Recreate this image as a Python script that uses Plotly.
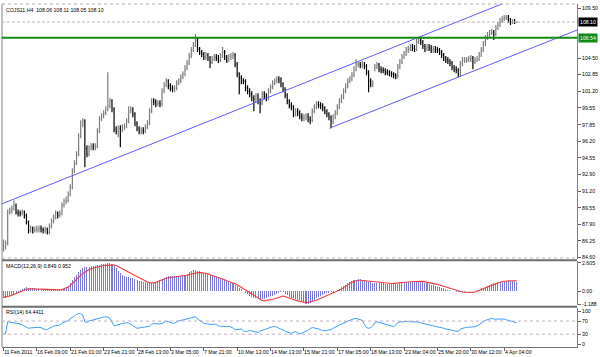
import plotly.graph_objects as go

# ---------------- data ----------------
symbol_title = "COJS11,H4  108.06 108.11 108.05 108.10"
macd_title = "MACD(12,26,9) 0.849 0.952"
rsi_title = "RSI(14) 64.4411"

date_labels = ["11 Feb 2011", "16 Feb 09:00", "21 Feb 01:00", "23 Feb 21:00", "28 Feb 13:00",
               "3 Mar 05:00", "7 Mar 21:00", "10 Mar 13:00", "14 Mar 13:00", "15 Mar 21:00",
               "17 Mar 05:00", "18 Mar 13:00", "23 Mar 04:00", "25 Mar 20:00", "30 Mar 12:00",
               "4 Apr 04:00"]
bars_per_label = 16

price_ticks = [84.60, 86.25, 87.90, 89.55, 91.20, 92.90, 94.55, 96.20, 97.85, 99.55,
               101.20, 102.85, 104.50, 109.50]
macd_ticks = [2.605, 0.0, -1.188]
macd_ticktext = ["2.605", "0.00", "-1.188"]
rsi_ticks = [100, 70, 30, 0]
rsi_levels = [70, 30]

bid_price = 108.10
level_price = 106.54

open_ = [
 85.4, 85.7, 86.0, 89.1, 89.3, 89.5, 89.8, 89.1, 89.0, 89.0,
 89.1, 88.8, 88.1, 87.3, 87.5, 87.3, 87.4, 87.4, 87.5, 87.4,
 87.3, 87.4, 87.1, 87.7, 88.2, 88.6, 89.0, 88.8, 89.0, 89.8,
 90.2, 90.3, 90.9, 91.6, 93.2, 94.0, 94.9, 96.7, 97.9, 98.2,
 95.5, 94.9, 95.5, 95.7, 95.6, 95.7, 97.2, 98.4, 98.7, 99.0,
 99.4, 99.7, 100.2, 99.4, 97.4, 97.2, 97.5, 97.4, 97.6, 97.7,
 98.2, 99.2, 99.4, 98.9, 98.0, 97.5, 97.2, 97.3, 97.2, 97.6,
 98.0, 99.2, 100.2, 100.1, 99.9, 100.0, 99.9, 101.2, 101.8, 102.2,
 101.7, 101.5, 101.4, 101.5, 102.0, 102.2, 102.6, 102.9, 103.5, 104.0,
 104.7, 105.3, 105.8, 106.3, 105.4, 105.1, 104.9, 104.6, 104.8, 104.5,
 104.1, 104.4, 104.6, 104.5, 104.3, 104.7, 105.1, 104.6, 104.3, 104.6,
 104.7, 104.8, 103.9, 102.9, 102.5, 102.2, 102.2, 101.5, 101.2, 100.9,
 100.5, 100.4, 100.7, 100.2, 100.0, 100.9, 100.7, 100.5, 101.2, 101.6,
 102.0, 102.2, 102.4, 102.3, 101.9, 101.4, 100.8, 100.2, 99.8, 99.6,
 98.9, 99.2, 99.0, 98.7, 98.5, 98.6, 98.7, 98.4, 98.3, 99.2,
 99.6, 99.9, 99.8, 99.7, 99.5, 99.2, 98.9, 98.6, 98.2, 98.6,
 99.0, 99.6, 100.2, 100.6, 101.2, 101.7, 102.2, 102.4, 102.8, 103.4,
 103.9, 103.9, 103.8, 103.9, 103.7, 103.1, 102.2, 101.9, 103.5, 103.6,
 103.8, 103.4, 103.3, 103.3, 103.1, 103.1, 103.0, 102.9, 102.8, 102.7,
 103.6, 104.1, 104.6, 104.9, 105.3, 105.4, 105.6, 105.5, 105.4, 106.1,
 106.3, 106.1, 105.7, 105.4, 105.6, 105.5, 105.3, 105.4, 105.3, 105.3,
 105.1, 104.8, 104.5, 104.3, 104.2, 104.0, 103.6, 103.4, 103.3, 102.9,
 103.9, 104.3, 104.3, 104.3, 104.4, 104.5, 104.1, 104.3, 104.4, 104.8,
 105.3, 105.9, 106.5, 106.8, 107.0, 107.1, 106.9, 107.5, 107.8, 108.2,
 108.4, 108.5, 108.6, 108.3, 108.1, 108.2, 108.06]

high = [
 86.4, 86.3, 89.4, 89.6, 89.8, 90.3, 90.0, 89.4, 89.3, 89.4,
 89.3, 89.0, 88.3, 87.8, 87.7, 87.7, 87.8, 87.8, 87.8, 87.6,
 87.7, 87.6, 88.0, 88.5, 88.9, 89.3, 89.2, 89.3, 90.1, 90.5,
 90.7, 91.2, 91.9, 93.5, 94.3, 95.2, 97.0, 98.3, 98.5, 98.4,
 95.8, 95.8, 96.0, 96.0, 96.0, 97.5, 98.7, 99.0, 99.3, 99.7,
 103.1, 100.5, 100.4, 99.6, 97.7, 97.8, 97.8, 97.9, 98.0, 98.5,
 99.7, 99.7, 99.6, 99.1, 98.2, 97.7, 97.6, 97.6, 97.9, 98.3,
 99.5, 100.5, 100.5, 100.4, 100.3, 100.3, 101.5, 102.1, 102.5, 102.4,
 102.0, 101.8, 101.8, 102.3, 102.5, 102.9, 103.2, 103.8, 104.3, 105.0,
 105.6, 106.1, 106.9, 106.5, 105.6, 105.3, 105.1, 105.1, 105.0, 104.7,
 104.7, 104.9, 104.9, 104.8, 105.0, 105.6, 105.3, 104.8, 104.9, 105.0,
 105.1, 105.0, 104.1, 103.1, 102.8, 102.5, 102.4, 101.8, 101.5, 101.2,
 100.8, 101.0, 101.0, 100.5, 101.2, 101.2, 101.0, 101.5, 101.9, 102.3,
 102.5, 102.7, 102.7, 102.6, 102.1, 101.6, 101.0, 100.4, 100.1, 99.8,
 99.5, 99.5, 99.3, 99.0, 98.9, 99.0, 99.0, 98.7, 99.5, 99.9,
 100.2, 100.2, 100.1, 100.0, 99.7, 99.4, 99.1, 98.8, 98.9, 99.3,
 99.9, 100.5, 100.9, 101.5, 102.0, 102.5, 102.7, 103.1, 103.7, 104.4,
 104.2, 104.1, 104.2, 104.1, 103.9, 103.3, 102.5, 102.3, 103.9, 104.1,
 104.0, 103.7, 103.6, 103.5, 103.4, 103.3, 103.2, 103.1, 103.0, 103.9,
 104.4, 104.9, 105.2, 105.6, 105.7, 105.9, 105.9, 105.8, 106.4, 106.6,
 106.5, 106.3, 105.9, 105.9, 105.9, 105.8, 105.7, 105.7, 105.6, 105.5,
 105.3, 105.0, 104.7, 104.6, 104.4, 104.2, 103.8, 103.7, 103.5, 104.2,
 104.6, 104.6, 104.6, 104.7, 104.8, 104.7, 104.6, 104.7, 105.1, 105.6,
 106.2, 106.8, 107.1, 107.3, 107.4, 107.3, 107.8, 108.1, 108.5, 108.7,
 108.8, 108.8, 108.8, 108.5, 108.4, 108.4, 108.11]

low = [
 85.2, 85.4, 85.8, 88.9, 89.0, 89.3, 88.9, 88.7, 88.7, 88.8,
 88.5, 87.9, 87.0, 87.1, 87.0, 87.1, 87.1, 87.1, 87.1, 87.0,
 87.0, 86.9, 86.9, 87.5, 88.0, 88.4, 88.5, 88.6, 88.8, 89.6,
 89.9, 90.1, 90.7, 91.4, 93.0, 93.8, 94.7, 96.5, 97.6, 93.6,
 94.6, 94.7, 95.3, 95.3, 95.3, 95.5, 97.0, 98.2, 98.5, 98.8,
 99.2, 99.5, 99.1, 97.1, 96.9, 96.6, 95.6, 97.1, 97.3, 97.5,
 98.0, 99.0, 98.6, 97.7, 97.2, 96.9, 96.9, 96.9, 97.0, 97.4,
 97.8, 99.0, 99.8, 99.6, 99.7, 99.6, 99.7, 101.0, 101.6, 101.4,
 101.2, 101.1, 101.1, 101.3, 101.8, 102.0, 102.4, 102.7, 103.3, 103.8,
 104.5, 105.1, 105.6, 105.1, 104.8, 104.6, 104.3, 104.3, 104.2, 103.5,
 103.9, 104.2, 104.2, 104.0, 104.1, 104.5, 104.3, 104.0, 104.1, 104.3,
 104.4, 103.6, 102.6, 100.9, 101.9, 101.9, 101.2, 100.9, 100.6, 100.2,
 99.2, 100.1, 99.9, 99.0, 99.8, 100.4, 100.2, 100.3, 101.0, 101.4,
 101.8, 102.0, 102.0, 101.6, 101.1, 100.5, 99.9, 99.5, 99.3, 98.6,
 98.7, 98.7, 98.4, 98.2, 98.2, 98.3, 98.1, 97.9, 98.1, 99.0,
 99.4, 99.5, 99.4, 99.2, 98.9, 98.6, 98.3, 97.5, 97.9, 98.4,
 98.8, 99.4, 100.0, 100.4, 101.0, 101.5, 102.0, 102.2, 102.6, 103.2,
 103.6, 103.5, 103.5, 103.4, 102.8, 101.1, 101.6, 101.6, 103.2, 103.4,
 103.1, 103.0, 103.0, 102.8, 102.8, 102.7, 102.6, 102.5, 102.4, 102.5,
 103.4, 103.9, 104.4, 104.7, 105.0, 105.2, 105.2, 105.1, 105.2, 105.9,
 105.8, 105.4, 105.1, 105.2, 105.2, 105.0, 105.0, 105.0, 105.0, 104.8,
 104.5, 104.2, 104.0, 103.9, 103.7, 103.3, 103.1, 103.0, 102.6, 102.7,
 103.7, 104.0, 104.0, 104.1, 104.1, 103.4, 103.9, 104.1, 104.2, 104.6,
 105.1, 105.7, 106.3, 106.6, 106.8, 106.3, 106.7, 107.3, 107.6, 108.0,
 108.2, 108.3, 108.0, 107.8, 107.9, 107.9, 108.05]

close = [
 85.7, 86.0, 89.1, 89.3, 89.5, 89.8, 89.1, 89.0, 89.0, 89.1,
 88.8, 88.1, 87.3, 87.5, 87.3, 87.4, 87.4, 87.5, 87.4, 87.3,
 87.4, 87.1, 87.7, 88.2, 88.6, 89.0, 88.8, 89.0, 89.8, 90.2,
 90.3, 90.9, 91.6, 93.2, 94.0, 94.9, 96.7, 97.9, 98.2, 95.5,
 94.9, 95.5, 95.7, 95.6, 95.7, 97.2, 98.4, 98.7, 99.0, 99.4,
 99.7, 100.2, 99.4, 97.4, 97.2, 97.5, 97.4, 97.6, 97.7, 98.2,
 99.2, 99.4, 98.9, 98.0, 97.5, 97.2, 97.3, 97.2, 97.6, 98.0,
 99.2, 100.2, 100.1, 99.9, 100.0, 99.9, 101.2, 101.8, 102.2, 101.7,
 101.5, 101.4, 101.5, 102.0, 102.2, 102.6, 102.9, 103.5, 104.0, 104.7,
 105.3, 105.8, 106.3, 105.4, 105.1, 104.9, 104.6, 104.8, 104.5, 104.1,
 104.4, 104.6, 104.5, 104.3, 104.7, 105.1, 104.6, 104.3, 104.6, 104.7,
 104.8, 103.9, 102.9, 102.5, 102.2, 102.2, 101.5, 101.2, 100.9, 100.5,
 100.4, 100.7, 100.2, 100.0, 100.9, 100.7, 100.5, 101.2, 101.6, 102.0,
 102.2, 102.4, 102.3, 101.9, 101.4, 100.8, 100.2, 99.8, 99.6, 98.9,
 99.2, 99.0, 98.7, 98.5, 98.6, 98.7, 98.4, 98.3, 99.2, 99.6,
 99.9, 99.8, 99.7, 99.5, 99.2, 98.9, 98.6, 98.2, 98.6, 99.0,
 99.6, 100.2, 100.6, 101.2, 101.7, 102.2, 102.4, 102.8, 103.4, 103.9,
 103.9, 103.8, 103.9, 103.7, 103.1, 102.2, 101.9, 102.0, 103.6, 103.8,
 103.4, 103.3, 103.3, 103.1, 103.1, 103.0, 102.9, 102.8, 102.7, 103.6,
 104.1, 104.6, 104.9, 105.3, 105.4, 105.6, 105.5, 105.4, 106.1, 106.3,
 106.1, 105.7, 105.4, 105.6, 105.5, 105.3, 105.4, 105.3, 105.3, 105.1,
 104.8, 104.5, 104.3, 104.2, 104.0, 103.6, 103.4, 103.3, 102.9, 103.9,
 104.3, 104.3, 104.3, 104.4, 104.5, 104.1, 104.3, 104.4, 104.8, 105.3,
 105.9, 106.5, 106.8, 107.0, 107.1, 106.9, 107.5, 107.8, 108.2, 108.4,
 108.5, 108.6, 108.3, 108.1, 108.2, 108.1, 108.10]

macd_main = [
 -0.62, -0.60, -0.55, -0.48, -0.40, -0.30, -0.18, -0.05, 0.10, 0.22,
 0.32, 0.35, 0.33, 0.30, 0.27, 0.24, 0.20, 0.17, 0.15, 0.13,
 0.12, 0.10, 0.09, 0.09, 0.10, 0.10, 0.11, 0.12, 0.15, 0.20,
 0.28, 0.45, 0.70, 1.00, 1.25, 1.50, 1.75, 1.96, 2.10, 2.20,
 2.22, 2.25, 2.28, 2.32, 2.35, 2.38, 2.42, 2.45, 2.48, 2.52,
 2.55, 2.605, 2.50, 2.35, 2.10, 1.85, 1.66, 1.50, 1.40, 1.32,
 1.28, 1.22, 1.18, 1.10, 1.02, 0.95, 0.90, 0.86, 0.82, 0.78,
 0.76, 0.75, 0.78, 0.85, 0.95, 1.02, 1.10, 1.20, 1.30, 1.35,
 1.36, 1.37, 1.38, 1.40, 1.40, 1.42, 1.45, 1.50, 1.60, 1.75,
 1.85, 1.90, 1.92, 1.88, 1.84, 1.78, 1.70, 1.62, 1.55, 1.48,
 1.40, 1.35, 1.28, 1.22, 1.15, 1.08, 1.00, 0.92, 0.85, 0.78,
 0.72, 0.60, 0.45, 0.30, 0.15, 0.00, -0.15, -0.30, -0.45, -0.55,
 -0.60, -0.65, -0.70, -0.73, -0.75, -0.72, -0.65, -0.55, -0.48, -0.42,
 -0.35, -0.25, -0.15, -0.10, -0.12, -0.25, -0.40, -0.55, -0.62, -0.68,
 -0.72, -0.78, -0.85, -0.95, -1.05, -1.15, -1.188, -1.10, -0.98, -0.80,
 -0.62, -0.50, -0.42, -0.35, -0.28, -0.22, -0.15, -0.10, -0.05, 0.00,
 0.08, 0.20, 0.35, 0.48, 0.60, 0.72, 0.82, 0.92, 1.00, 1.05,
 1.10, 1.10, 1.05, 1.00, 0.95, 0.88, 0.82, 0.78, 0.75, 0.74,
 0.73, 0.72, 0.70, 0.68, 0.66, 0.65, 0.65, 0.65, 0.64, 0.66,
 0.70, 0.74, 0.78, 0.80, 0.82, 0.86, 0.88, 0.90, 0.90, 0.88,
 0.85, 0.80, 0.75, 0.70, 0.65, 0.60, 0.55, 0.48, 0.42, 0.36,
 0.30, 0.25, 0.20, 0.14, 0.08, 0.03, -0.02, -0.05, -0.08, -0.06,
 -0.05, -0.04, -0.03, -0.02, 0.00, 0.00, 0.02, 0.05, 0.10, 0.25,
 0.32, 0.40, 0.48, 0.56, 0.62, 0.70, 0.78, 0.84, 0.88, 0.92,
 0.95, 0.97, 0.98, 0.96, 0.93, 0.90, 0.849]

macd_signal = [
 -0.58, -0.55, -0.50, -0.45, -0.38, -0.30, -0.22, -0.13, -0.04, 0.05,
 0.12, 0.17, 0.20, 0.21, 0.21, 0.20, 0.19, 0.18, 0.17, 0.16,
 0.15, 0.13, 0.11, 0.10, 0.10, 0.10, 0.10, 0.11, 0.14, 0.20,
 0.27, 0.38, 0.52, 0.68, 0.90, 1.10, 1.30, 1.45, 1.60, 1.75,
 1.88, 1.98, 2.06, 2.12, 2.18, 2.23, 2.28, 2.32, 2.35, 2.38,
 2.40, 2.41, 2.41, 2.40, 2.35, 2.25, 2.12, 2.00, 1.88, 1.80,
 1.72, 1.62, 1.52, 1.42, 1.33, 1.22, 1.12, 1.02, 0.93, 0.84,
 0.78, 0.75, 0.76, 0.82, 0.90, 0.98, 1.05, 1.12, 1.18, 1.22,
 1.24, 1.26, 1.28, 1.30, 1.32, 1.34, 1.36, 1.40, 1.45, 1.52,
 1.58, 1.63, 1.66, 1.69, 1.70, 1.70, 1.68, 1.64, 1.58, 1.52,
 1.46, 1.40, 1.35, 1.28, 1.20, 1.12, 1.04, 0.96, 0.90, 0.84,
 0.78, 0.68, 0.58, 0.46, 0.34, 0.20, 0.08, -0.05, -0.18, -0.28,
 -0.38, -0.50, -0.62, -0.75, -0.86, -0.90, -0.88, -0.84, -0.80, -0.75,
 -0.70, -0.62, -0.55, -0.48, -0.45, -0.50, -0.58, -0.66, -0.74, -0.80,
 -0.84, -0.90, -0.95, -0.99, -1.02, -1.04, -1.04, -1.00, -0.95, -0.90,
 -0.84, -0.76, -0.68, -0.58, -0.48, -0.40, -0.32, -0.25, -0.18, -0.12,
 -0.05, 0.05, 0.18, 0.32, 0.45, 0.58, 0.70, 0.80, 0.88, 0.95,
 1.00, 1.00, 0.98, 0.95, 0.92, 0.88, 0.86, 0.85, 0.83, 0.80,
 0.78, 0.75, 0.73, 0.71, 0.70, 0.70, 0.70, 0.71, 0.72, 0.73,
 0.75, 0.76, 0.78, 0.80, 0.83, 0.86, 0.88, 0.90, 0.91, 0.91,
 0.90, 0.89, 0.86, 0.84, 0.81, 0.78, 0.74, 0.68, 0.62, 0.56,
 0.50, 0.44, 0.38, 0.32, 0.25, 0.18, 0.10, 0.04, 0.00, -0.05,
 -0.08, -0.11, -0.13, -0.15, -0.14, -0.12, -0.08, -0.02, 0.06, 0.15,
 0.22, 0.30, 0.38, 0.46, 0.54, 0.62, 0.70, 0.77, 0.83, 0.88,
 0.91, 0.93, 0.95, 0.95, 0.95, 0.95, 0.952]

rsi = [
 30, 32, 68, 67, 66, 66, 63, 62, 61, 58,
 54, 50, 48, 49, 50, 50, 50, 51, 50, 46,
 45, 44, 48, 52, 54, 56, 57, 58, 63, 66,
 68, 72, 77, 83, 86, 90, 93, 92, 88, 68,
 66, 70, 72, 74, 75, 77, 78, 80, 82, 83,
 82, 78, 66, 55, 57, 60, 61, 62, 64, 65,
 64, 60, 56, 50, 48, 49, 51, 51, 52, 53,
 54, 60, 63, 62, 61, 61, 63, 67, 70, 68,
 66, 63, 64, 68, 70, 72, 73, 75, 77, 78,
 80, 82, 83, 76, 73, 68, 63, 62, 60, 58,
 59, 61, 60, 56, 53, 54, 53, 53, 54, 52,
 49, 43, 44, 47, 46, 40, 38, 39, 41, 40,
 38, 36, 35, 40, 43, 44, 46, 49, 51, 53,
 53, 52, 48, 45, 43, 39, 36, 34, 33, 35,
 38, 34, 31, 33, 36, 38, 42, 47, 50, 49,
 48, 47, 44, 41, 40, 41, 43, 44, 48, 52,
 55, 58, 61, 64, 68, 71, 73, 75, 77, 78,
 76, 74, 72, 60, 50, 48, 50, 55, 64, 68,
 66, 65, 64, 62, 60, 57, 54, 53, 58, 65,
 67, 68, 68, 68, 69, 68, 68, 67, 69, 67,
 65, 63, 61, 60, 58, 56, 55, 54, 53, 51,
 49, 48, 46, 45, 44, 42, 40, 39, 38, 46,
 48, 50, 51, 51, 51, 51, 53, 55, 60, 63,
 68, 72, 74, 77, 78, 76, 76, 77, 78, 78,
 76, 74, 72, 70, 68, 66, 64.4411]

# channel lines drawn on the chart: (bar position, price) end points
channel_upper_x = [-0.7, 274.9]
channel_upper_y = [89.96, 112.9]
channel_lower_x = [156.2, 274.9]
channel_lower_y = [97.5, 107.3]

# ---------------- figure ----------------
bars = list(range(len(close)))
FONT = "Liberation Sans, Arial, sans-serif"
FS = 5.2

W, H = 600, 357
ML, MR, MT, MB = 2, 22, 2, 10
PH = H - MT - MB  # plot height in px


def py(pix):
    """pixel row -> paper y"""
    return (H - MB - pix) / PH


x_range = [-0.72, 274.9]

fig = go.Figure()

fig.add_trace(go.Ohlc(
    x=bars, open=open_, high=high, low=low, close=close,
    increasing=dict(line=dict(color="#7c7c7c", width=1.2)),
    decreasing=dict(line=dict(color="#000000", width=1.2)),
    tickwidth=0.35, xaxis="x", yaxis="y", hoverinfo="skip", showlegend=False))

fig.add_trace(go.Scatter(x=channel_upper_x, y=channel_upper_y, mode="lines",
                         line=dict(color="#5a5aff", width=1), xaxis="x", yaxis="y",
                         hoverinfo="skip", showlegend=False))
fig.add_trace(go.Scatter(x=channel_lower_x, y=channel_lower_y, mode="lines",
                         line=dict(color="#5a5aff", width=1), xaxis="x", yaxis="y",
                         hoverinfo="skip", showlegend=False))

fig.add_trace(go.Bar(x=bars, y=macd_main, width=0.5,
                     marker=dict(color="#4f4fc8", opacity=0.75, line=dict(width=0)),
                     xaxis="x2", yaxis="y2", hoverinfo="skip", showlegend=False))
fig.add_trace(go.Scatter(x=bars, y=macd_signal, mode="lines",
                         line=dict(color="#f03a3a", width=1.1),
                         xaxis="x2", yaxis="y2", hoverinfo="skip", showlegend=False))

fig.add_trace(go.Scatter(x=bars, y=rsi, mode="lines",
                         line=dict(color="#3c9cff", width=1),
                         xaxis="x3", yaxis="y3", hoverinfo="skip", showlegend=False))

axis_common = dict(showgrid=False, zeroline=False, fixedrange=True)
yaxis_common = dict(axis_common, side="right", ticks="outside", ticklen=3,
                    tickcolor="#606060", tickfont=dict(family=FONT, size=FS, color="#000"),
                    showline=True, linecolor="#808080", linewidth=1)

label_pos = [k * bars_per_label for k in range(len(date_labels))]

fig.update_layout(
    width=W, height=H, margin=dict(l=ML, r=MR, t=MT, b=MB),
    paper_bgcolor="white", plot_bgcolor="white", showlegend=False,
    bargap=0,
    xaxis=dict(axis_common, domain=[0, 1], anchor="y", range=x_range,
               showticklabels=False, rangeslider=dict(visible=False)),
    xaxis2=dict(axis_common, domain=[0, 1], anchor="y2", range=x_range,
                showticklabels=False),
    xaxis3=dict(axis_common, domain=[0, 1], anchor="y3", range=x_range,
                showticklabels=False, tickvals=label_pos, ticks="outside",
                ticklen=3, tickcolor="#606060", showline=True,
                linecolor="#707070", linewidth=1),
    yaxis=dict(yaxis_common, domain=[py(258), 1], anchor="x",
               range=[84.50, 109.90], tickvals=price_ticks,
               ticktext=[f"{v:.2f}" for v in price_ticks]),
    yaxis2=dict(yaxis_common, domain=[py(305), py(261)], anchor="x2",
                range=[-1.30, 2.72], tickvals=macd_ticks, ticktext=macd_ticktext),
    yaxis3=dict(yaxis_common, domain=[0, py(308)], anchor="x3",
                range=[-9, 109], tickvals=rsi_ticks,
                ticktext=[str(v) for v in rsi_ticks]),
)

shapes = []
# frame / separators
shapes.append(dict(type="line", xref="paper", yref="paper", x0=0, x1=0, y0=0, y1=1,
                   line=dict(color="#808080", width=1)))
shapes.append(dict(type="line", xref="paper", yref="paper", x0=0, x1=1, y0=1, y1=1,
                   line=dict(color="#a8a8a8", width=1, dash="dot")))
shapes.append(dict(type="line", xref="paper", yref="paper", x0=0, x1=1,
                   y0=py(257.5), y1=py(257.5), line=dict(color="#b4b4b4", width=1, dash="dot")))
shapes.append(dict(type="line", xref="paper", yref="paper", x0=0, x1=1,
                   y0=py(259.8), y1=py(259.8), line=dict(color="#6e6e6e", width=2)))
shapes.append(dict(type="line", xref="paper", yref="paper", x0=0, x1=1,
                   y0=py(306.6), y1=py(306.6), line=dict(color="#6e6e6e", width=2)))
# bid line and horizontal level
shapes.append(dict(type="line", xref="paper", yref="y", x0=0, x1=1,
                   y0=bid_price, y1=bid_price,
                   line=dict(color="#c4b4c4", width=1, dash="3px,2px")))
shapes.append(dict(type="line", xref="paper", yref="y", x0=0, x1=1,
                   y0=level_price, y1=level_price,
                   line=dict(color="#138a13", width=2)))
# RSI levels
for lv in rsi_levels:
    shapes.append(dict(type="line", xref="paper", yref="y3", x0=0, x1=1, y0=lv, y1=lv,
                       line=dict(color="#c0b0c0", width=1, dash="dot")))
fig.update_layout(shapes=shapes)

ann = []
ann.append(dict(text=symbol_title, xref="paper", yref="paper", x=0, y=py(8),
                xanchor="left", yanchor="middle", xshift=2, showarrow=False,
                font=dict(family=FONT, size=FS, color="#000")))
ann.append(dict(text=macd_title, xref="paper", yref="paper", x=0, y=py(266),
                xanchor="left", yanchor="middle", xshift=2, showarrow=False,
                font=dict(family=FONT, size=FS, color="#000")))
ann.append(dict(text=rsi_title, xref="paper", yref="paper", x=0, y=py(312),
                xanchor="left", yanchor="middle", xshift=2, showarrow=False,
                font=dict(family=FONT, size=FS, color="#000")))
for pos, lab in zip(label_pos, date_labels):
    ann.append(dict(text=lab, xref="x3", yref="paper", x=pos - 0.7, y=py(352.5),
                    xanchor="left", yanchor="middle", showarrow=False,
                    font=dict(family=FONT, size=FS, color="#000")))
# price boxes on the right scale
ann.append(dict(text=f"{bid_price:.2f}", xref="paper", yref="y", x=1, y=bid_price,
                xanchor="left", yanchor="middle", xshift=1, showarrow=False,
                bgcolor="#000000", borderpad=1,
                font=dict(family=FONT, size=FS, color="#ffffff")))
ann.append(dict(text=f"{level_price:.2f}", xref="paper", yref="y", x=1, y=level_price,
                xanchor="left", yanchor="middle", xshift=1, showarrow=False,
                bgcolor="#138a13", borderpad=1,
                font=dict(family=FONT, size=FS, color="#ffffff")))
fig.update_layout(annotations=ann)

fig.write_html("out.html", config={"displayModeBar": False, "staticPlot": True},
               post_script="document.body.style.margin='0';document.body.style.padding='0';")
